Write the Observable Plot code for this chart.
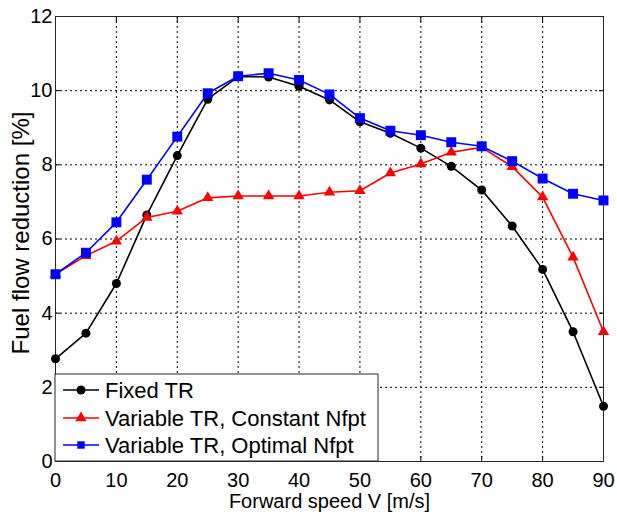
<!DOCTYPE html>
<html>
<head>
<meta charset="utf-8">
<script src="https://cdn.jsdelivr.net/npm/d3@7"></script>
<script src="https://cdn.jsdelivr.net/npm/@observablehq/plot@0.6"></script>
<style>
  html, body { margin: 0; padding: 0; background: #fff; }
  #chart { position: relative; width: 617px; height: 515px; }
  svg { font-family: "Liberation Sans", Arial, sans-serif; }
</style>
</head>
<body>
<div id="chart"></div>
<script>
const speeds = [0, 5, 10, 15, 20, 25, 30, 35, 40, 45, 50, 55, 60, 65, 70, 75, 80, 85, 90];
const fixedTR = [2.77, 3.46, 4.80, 6.65, 8.25, 9.77, 10.38, 10.37, 10.12, 9.75, 9.16, 8.85, 8.45, 7.96, 7.32, 6.35, 5.18, 3.50, 1.49];
const varConst = [5.05, 5.55, 5.94, 6.58, 6.75, 7.11, 7.16, 7.16, 7.16, 7.26, 7.30, 7.78, 8.02, 8.34, 8.47, 7.95, 7.13, 5.51, 3.50];
const varOpt = [5.05, 5.63, 6.45, 7.60, 8.76, 9.93, 10.39, 10.47, 10.29, 9.90, 9.26, 8.92, 8.80, 8.61, 8.50, 8.10, 7.63, 7.22, 7.04];
const seriesNames = ["Fixed TR", "Variable TR, Constant Nfpt", "Variable TR, Optimal Nfpt"];
const seriesColors = ["#000000", "#ff0000", "#0000ff"];
const seriesSymbols = ["circle", "triangle", "square"];
const seriesR = [4.5, 4.2, 5.6];
const xTicks = [0, 10, 20, 30, 40, 50, 60, 70, 80, 90];
const yTicks = [0, 2, 4, 6, 8, 10, 12];
const xLabel = "Forward speed V [m/s]";
const yLabel = "Fuel flow reduction [%]";

const seriesValues = [fixedTR, varConst, varOpt];
const rows = (i) => speeds.map((v, j) => ({x: v, y: seriesValues[i][j]}));

const marks = [
  Plot.gridX(xTicks, {stroke: "#000", strokeOpacity: 1, strokeWidth: 1, strokeDasharray: "2,3"}),
  Plot.gridY(yTicks, {stroke: "#000", strokeOpacity: 1, strokeWidth: 1, strokeDasharray: "2,3"}),
  Plot.axisX({ticks: xTicks, tickSize: 0, tickPadding: 11, label: null, fontSize: 20}),
  Plot.axisY({ticks: yTicks, tickSize: 0, tickPadding: 3, label: null, fontSize: 20}),
  Plot.axisX({ticks: xTicks, anchor: "bottom", tickSize: -5, tickFormat: () => "", label: null}),
  Plot.axisX({ticks: xTicks, anchor: "top", tickSize: -5, tickFormat: () => "", label: null}),
  Plot.axisY({ticks: yTicks, anchor: "left", tickSize: -5, tickFormat: () => "", label: null}),
  Plot.axisY({ticks: yTicks, anchor: "right", tickSize: -5, tickFormat: () => "", label: null}),
  Plot.frame({stroke: "#262626", strokeWidth: 1})
];
for (let i = 0; i < 3; i++) {
  marks.push(Plot.line(rows(i), {x: "x", y: "y", stroke: seriesColors[i], strokeWidth: 1.6}));
  marks.push(Plot.dot(rows(i), {x: "x", y: "y", fill: seriesColors[i], stroke: "none", symbol: () => seriesSymbols[i], r: seriesR[i]}));
}
marks.push(Plot.text([xLabel], {frameAnchor: "bottom", dy: 40, text: d => d, fontSize: 20, textAnchor: "middle", lineAnchor: "middle", fill: "#000"}));
marks.push(Plot.text([yLabel], {frameAnchor: "left", dx: -34, dy: -6, text: d => d, fontSize: 24, rotate: -90, textAnchor: "middle", lineAnchor: "middle", fill: "#000"}));

const chart = Plot.plot({
  width: 617,
  height: 515,
  marginLeft: 55,
  marginRight: 14,
  marginTop: 16,
  marginBottom: 54,
  style: {fontFamily: "'Liberation Sans', Arial, sans-serif", fontSize: "20px", color: "#000", background: "#fff"},
  x: {domain: [0, 90]},
  y: {domain: [0, 12]},
  marks
});

// Legend inside the plot, lower-left corner
const svg = d3.select(chart);
const xs = chart.scale("x"), ys = chart.scale("y");
const boxLeft = xs.apply(0), boxBottom = ys.apply(0);
const boxW = 323, boxH = 87;
const lg = svg.append("g")
  .attr("font-family", "'Liberation Sans', Arial, sans-serif")
  .attr("font-size", 22)
  .attr("text-anchor", "start");
lg.append("rect").attr("x", boxLeft).attr("y", boxBottom - boxH).attr("width", boxW).attr("height", boxH)
  .attr("fill", "#fff").attr("stroke", "#262626").attr("stroke-width", 1);
const rowY = [16, 44, 71];
const symPaths = {
  circle: d3.symbol(d3.symbolCircle, Math.PI * 4.5 * 4.5)(),
  triangle: d3.symbol(d3.symbolTriangle, Math.PI * 4.2 * 4.2)(),
  square: d3.symbol(d3.symbolSquare, Math.PI * 4.2 * 4.2)()
};
for (let i = 0; i < 3; i++) {
  const cy = boxBottom - boxH + rowY[i];
  lg.append("line").attr("x1", boxLeft + 8).attr("x2", boxLeft + 44).attr("y1", cy).attr("y2", cy)
    .attr("stroke", seriesColors[i]).attr("stroke-width", 1.6);
  lg.append("path").attr("d", symPaths[seriesSymbols[i]]).attr("transform", `translate(${boxLeft + 26},${cy})`)
    .attr("fill", seriesColors[i]);
  lg.append("text").attr("x", boxLeft + 50).attr("y", cy).attr("dy", "0.36em")
    .attr("text-anchor", "start").attr("fill", "#000").text(seriesNames[i]);
}

document.getElementById("chart").appendChild(chart);
</script>
</body>
</html>
